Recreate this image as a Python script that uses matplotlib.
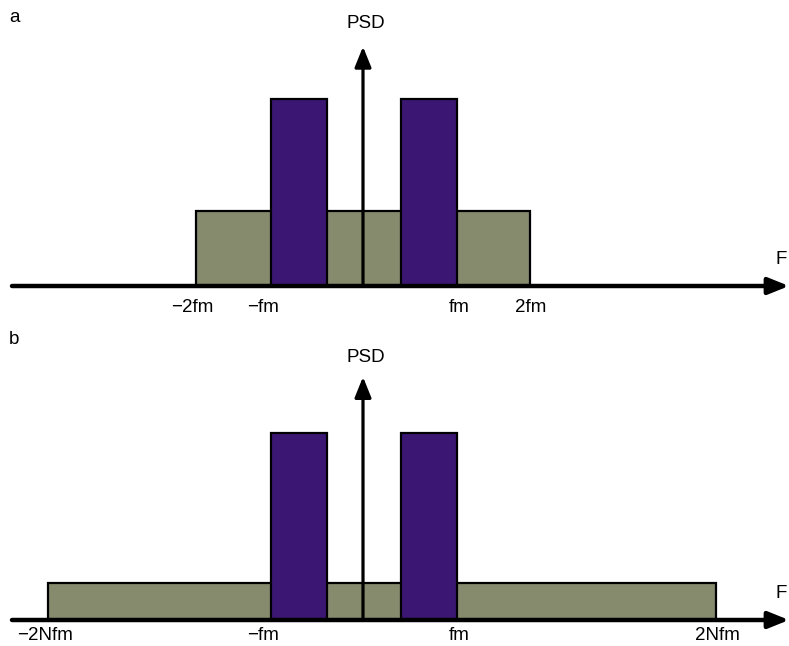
import matplotlib.pyplot as plt

plt.rcParams['font.family'] = ['Liberation Sans', 'DejaVu Sans']

# frequency in units of fm-ish (schematic), PSD in units of the tone height
tone_left = [-1.10, 0.455]
tone_right = [-0.43, 1.126]
tone_height = [1.0, 1.0]

noise_a = (-2.0, 2.0, 0.40)      # left, right, height
noise_b = (-3.77, 4.23, 0.20)

ticks_a = [(-2.04, '\u22122fm'), (-1.2, '\u2212fm'), (1.15, 'fm'), (2.01, '2fm')]
ticks_b = [(-3.81, '\u22122Nfm'), (-1.2, '\u2212fm'), (1.15, 'fm'), (4.25, '2Nfm')]

GREEN = '#878b6d'
PURPLE = '#3b1773'

fig = plt.figure(figsize=(7.89, 6.46), dpi=100)

scale = 83.5   # px per unit
x0 = 363
xlim = (-x0 / scale, (789 - x0) / scale)
FS = 13.5


def panel(rect, axis_py, top_py, bottom_py, noise, ticks, letter, tip, tick_off):
    ax = fig.add_axes(rect)
    ax.set_xlim(*xlim)
    ax.set_ylim((axis_py - bottom_py) / 187, (axis_py - top_py) / 187)
    ax.axis('off')

    l, r, h = noise
    ax.bar(l, h, r - l, align='edge', color=GREEN, edgecolor='black', lw=1.6, zorder=2)
    for lo, hi, ht in zip(tone_left, tone_right, tone_height):
        ax.bar(lo, ht, hi - lo, align='edge', color=PURPLE, edgecolor='black', lw=1.6, zorder=3)

    # PSD axis
    ax.annotate('', xy=(0, tip), xytext=(0, 0),
                arrowprops=dict(arrowstyle='-|>,head_length=0.62,head_width=0.25',
                                color='black', lw=2.3, shrinkA=0, shrinkB=0,
                                mutation_scale=20), zorder=4)
    ax.text(0.03, 1.405, 'PSD', ha='center', va='center', fontsize=FS)

    # frequency axis
    ax.annotate('', xy=(xlim[1], 0), xytext=(xlim[0] + 12 / scale, 0),
                arrowprops=dict(arrowstyle='-|>,head_length=0.62,head_width=0.25',
                                color='black', lw=3.2, shrinkA=0, shrinkB=0,
                                mutation_scale=20), zorder=5)
    ax.text(xlim[1] - 2 / scale, 0.144, 'F', ha='right', va='center', fontsize=FS)

    for x, s in ticks:
        ax.text(x, -tick_off / 187, s, ha='center', va='center', fontsize=FS)

    ax.text(xlim[0] + 9 / scale, (axis_py - top_py - 17) / 187, letter,
            ha='left', va='center', fontsize=FS)
    return ax


panel([0, 0.5, 1, 0.5], 286, 0, 323, noise_a, ticks_a, 'a', 1.28, 21)
panel([0, 0, 1, 0.5], 620, 323, 646, noise_b, ticks_b, 'b', 1.30, 15)

fig.savefig('out.png', dpi=100)
